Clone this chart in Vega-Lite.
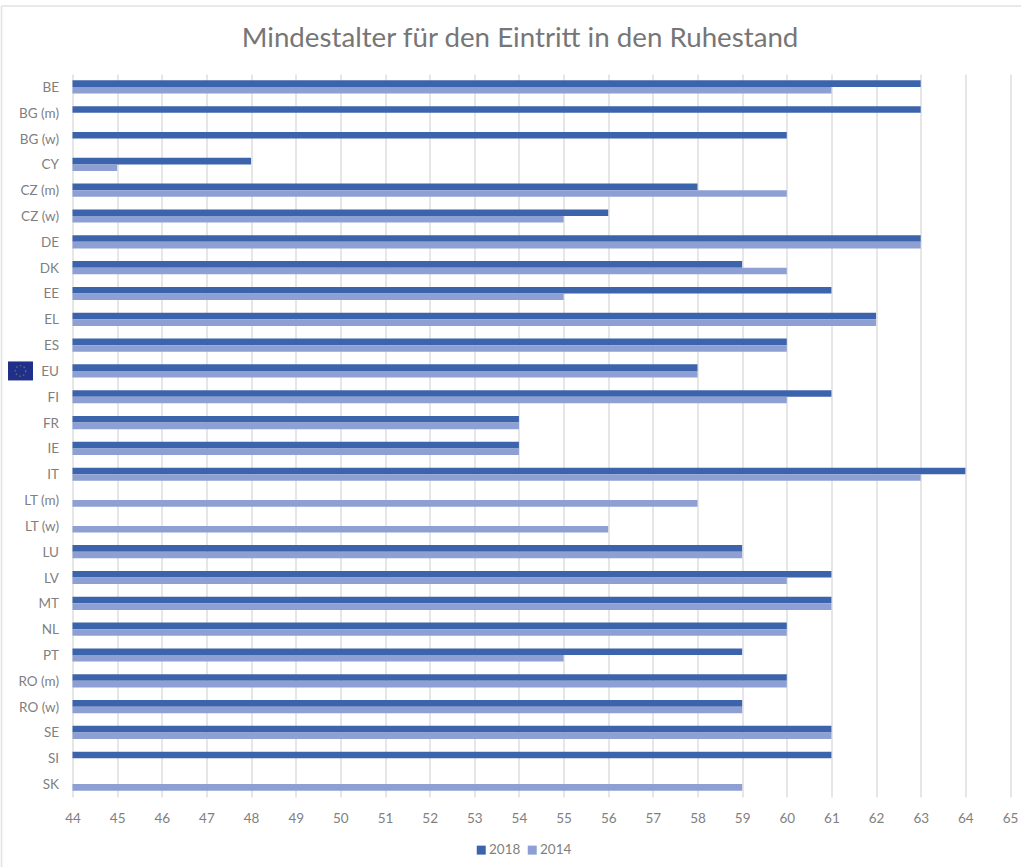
{
"$schema":"https://vega.github.io/schema/vega-lite/v6.json",
"width":937.5,"height":723,
"autosize":{"type":"none"},
"padding":{"left":72.5,"top":74,"right":11,"bottom":70},
"background":"#ffffff",
"config":{"view":{"stroke":null},"font":"Lato"},
"title":{"text":"Mindestalter für den Eintritt in den Ruhestand","font":"Lato","fontSize":27.7,"fontWeight":"normal","color":"#767676","anchor":"start","offset":-47,"dx":241},
"datasets":{"rows":[
{"land":"BE","jahr":"2018","alter":63},{"land":"BE","jahr":"2014","alter":61},
{"land":"BG (m)","jahr":"2018","alter":63},
{"land":"BG (w)","jahr":"2018","alter":60},
{"land":"CY","jahr":"2018","alter":48},{"land":"CY","jahr":"2014","alter":45},
{"land":"CZ (m)","jahr":"2018","alter":58},{"land":"CZ (m)","jahr":"2014","alter":60},
{"land":"CZ (w)","jahr":"2018","alter":56},{"land":"CZ (w)","jahr":"2014","alter":55},
{"land":"DE","jahr":"2018","alter":63},{"land":"DE","jahr":"2014","alter":63},
{"land":"DK","jahr":"2018","alter":59},{"land":"DK","jahr":"2014","alter":60},
{"land":"EE","jahr":"2018","alter":61},{"land":"EE","jahr":"2014","alter":55},
{"land":"EL","jahr":"2018","alter":62},{"land":"EL","jahr":"2014","alter":62},
{"land":"ES","jahr":"2018","alter":60},{"land":"ES","jahr":"2014","alter":60},
{"land":"EU","jahr":"2018","alter":58},{"land":"EU","jahr":"2014","alter":58},
{"land":"FI","jahr":"2018","alter":61},{"land":"FI","jahr":"2014","alter":60},
{"land":"FR","jahr":"2018","alter":54},{"land":"FR","jahr":"2014","alter":54},
{"land":"IE","jahr":"2018","alter":54},{"land":"IE","jahr":"2014","alter":54},
{"land":"IT","jahr":"2018","alter":64},{"land":"IT","jahr":"2014","alter":63},
{"land":"LT (m)","jahr":"2014","alter":58},
{"land":"LT (w)","jahr":"2014","alter":56},
{"land":"LU","jahr":"2018","alter":59},{"land":"LU","jahr":"2014","alter":59},
{"land":"LV","jahr":"2018","alter":61},{"land":"LV","jahr":"2014","alter":60},
{"land":"MT","jahr":"2018","alter":61},{"land":"MT","jahr":"2014","alter":61},
{"land":"NL","jahr":"2018","alter":60},{"land":"NL","jahr":"2014","alter":60},
{"land":"PT","jahr":"2018","alter":59},{"land":"PT","jahr":"2014","alter":55},
{"land":"RO (m)","jahr":"2018","alter":60},{"land":"RO (m)","jahr":"2014","alter":60},
{"land":"RO (w)","jahr":"2018","alter":59},{"land":"RO (w)","jahr":"2014","alter":59},
{"land":"SE","jahr":"2018","alter":61},{"land":"SE","jahr":"2014","alter":61},
{"land":"SI","jahr":"2018","alter":61},
{"land":"SK","jahr":"2014","alter":59}
]},
"resolve":{"scale":{"y":"independent"}},
"layer":[
{"layer":[
{"data":{"name":"rows"},
"mark":{"type":"bar","clip":false},
"encoding":{
"y":{"field":"land","type":"nominal","sort":null,"title":null,
"scale":{"domain":["BE","BG (m)","BG (w)","CY","CZ (m)","CZ (w)","DE","DK","EE","EL","ES","EU","FI","FR","IE","IT","LT (m)","LT (w)","LU","LV","MT","NL","PT","RO (m)","RO (w)","SE","SI","SK"],"paddingInner":0.49,"paddingOuter":0.245},
"axis":{"domain":false,"ticks":false,"labelPadding":14,"labelOffset":1,"labelFont":"Lato","labelFontSize":13.5,"labelColor":"#7f7f7f","grid":false}},
"yOffset":{"field":"jahr","type":"nominal","scale":{"domain":["2018","2014"]}},
"x":{"field":"alter","type":"quantitative","title":null,"stack":null,
"scale":{"domain":[44,65],"zero":false,"nice":false},
"axis":{"values":[44,45,46,47,48,49,50,51,52,53,54,55,56,57,58,59,60,61,62,63,64,65],"format":"d","domain":false,"ticks":false,"grid":true,"gridColor":"#dedede","gridWidth":1.5,"labelFlush":false,"labelPadding":14,"labelFont":"Lato","labelFontSize":13.5,"labelColor":"#7f7f7f"}},
"color":{"field":"jahr","type":"nominal","title":null,
"scale":{"domain":["2018","2014"],"range":["#3c64ac","#8e9fd3"]},
"legend":{"orient":"none","legendX":402,"legendY":769,"direction":"horizontal","symbolType":"square","symbolSize":81,"symbolStrokeWidth":0,"labelFont":"Lato","labelFontSize":13.5,"labelColor":"#7f7f7f","columnPadding":5,"labelOffset":1}}
}},
{"data":{"values":[{"land":"EU","links":42.555,"rechts":43.115}]},
"mark":{"type":"bar","color":"#1f2f8a","size":19,"clip":false},
"encoding":{"y":{"field":"land","type":"nominal"},"x":{"field":"links","type":"quantitative"},"x2":{"field":"rechts"}}},
{"data":{"values":[{"land":"EU","mitte":42.835}]},
"mark":{"type":"point","shape":"circle","size":110,"filled":false,"stroke":"#8f8f55","strokeWidth":1.2,"strokeDash":[1.5,2.4],"clip":false},
"encoding":{"y":{"field":"land","type":"nominal"},"x":{"field":"mitte","type":"quantitative"}}}
]},
{"data":{"values":[{"x1":42.41,"x2":42.41,"y1":-68,"y2":793},{"x1":42.41,"x2":65.25,"y1":-68,"y2":-68}]},
"mark":{"type":"rule","color":"#e2e2e2","strokeWidth":1.5,"clip":false},
"encoding":{
"x":{"field":"x1","type":"quantitative","title":null},
"x2":{"field":"x2"},
"y":{"field":"y1","type":"quantitative","axis":null,"scale":{"domain":[0,723],"reverse":true,"nice":false,"zero":false}},
"y2":{"field":"y2"}}}
]
}
